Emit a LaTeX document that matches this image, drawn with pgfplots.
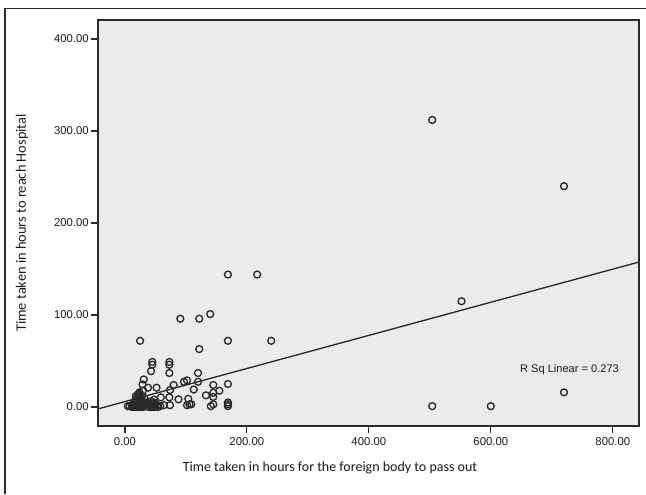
\documentclass[border=0pt]{standalone}
\usepackage{pgfplots}
\pgfplotsset{compat=1.18}
\usepackage{fontspec}
\setmainfont{Liberation Sans}
\newfontfamily\calibri{Carlito}
\definecolor{bg}{HTML}{EBEBEB}
\definecolor{ink}{HTML}{2A2A2A}
\definecolor{txt}{HTML}{1A1A1A}
\pgfplotstableread{
x y
504 312
720 240
552 115
504 1
600 1
720 16
169 144
217 144
140 101
122 96
91 96
25 72
169 72
240 72
122 63
45 49
45 46
73 49
73 46
43 39
73 37
120 37
31 30
102 29
97 27.5
120 27.5
145 24
169 25
80 24
52 21
38 21
29 24.5
74 18.5
113 19
155 17.7
145 15.5
133 12.7
145 11
59 10.5
73 10.5
88 8.4
104 9
74 2
102 2
106 3
109 3
141 1
145 3
169 5
169 1
169 3
24 0
24 1
24 2
24 3
24 4
24 5
24 6
24 7
24 8
24 10
24 12
24 14
24 16
12 0
12 2
14 1
14 4
16 0
16 3
16 6
18 2
18 8
18 12
20 0
20 5
20 10
22 1
22 4
22 14
26 0
26 3
26 8
28 2
28 6
28 12
30 0
30 4
30 18
32 2
32 10
36 1
36 5
40 0
40 3
42 6
42 2
44 0
46 1
46 4
48 0
48 2
48 5
48 8
50 1
50 3
54 2
54 0
58 1
64 2
8 1
5 1
}\pts
\begin{document}
\begin{tikzpicture}[x=0.75pt,y=-0.75pt]
\path[use as bounding box] (0,0) rectangle (646,494);
\draw[ink, line width=0.9pt] (5,494) -- (5,8.7) -- (646,8.7);
\coordinate (A) at (98,20);
\begin{axis}[
  at={(A)}, anchor=north west,
  scale only axis,
  width=405.75pt, height=304.5pt,
  xmin=-44, xmax=843, ymin=-20.6, ymax=420.6,
  xtick={0,200,400,600,800},
  ytick={0,100,200,300,400},
  xtick pos=bottom, ytick pos=left,
  tick align=outside,
  major tick length=5.25pt,
  every tick/.style={ink, line width=1pt},
  axis line style={ink, line width=1pt},
  axis background/.style={fill=bg},
  /pgf/number format/assume math mode=true,
  /pgf/number format/fixed, /pgf/number format/fixed zerofill, /pgf/number format/precision=2,
  /pgf/number format/1000 sep={},
  tick label style={font=\fontsize{8.5}{10}\selectfont, text=txt},
  yticklabel style={inner sep=1.5pt},
  clip=true,
]
\addplot[only marks, mark=o, mark size=2.6pt, mark options={ink, line width=1pt}] table[x=x,y=y] {\pts};
\addplot[ink, line width=1pt, no marks] coordinates {(-44,-2.02) (843,157.6)};
\end{axis}
\node[font=\fontsize{8.3}{10}\selectfont, text=txt] at (569.5,370) {R Sq Linear = 0.273};
\node[font=\calibri\fontsize{10.8}{12}\selectfont, text=txt, rotate=90] at (22,223) {Time taken in hours to reach Hospital};
\node[font=\calibri\fontsize{10.5}{12}\selectfont, text=txt] at (330,468) {Time taken in hours for the foreign body to pass out};
\end{tikzpicture}
\end{document}
